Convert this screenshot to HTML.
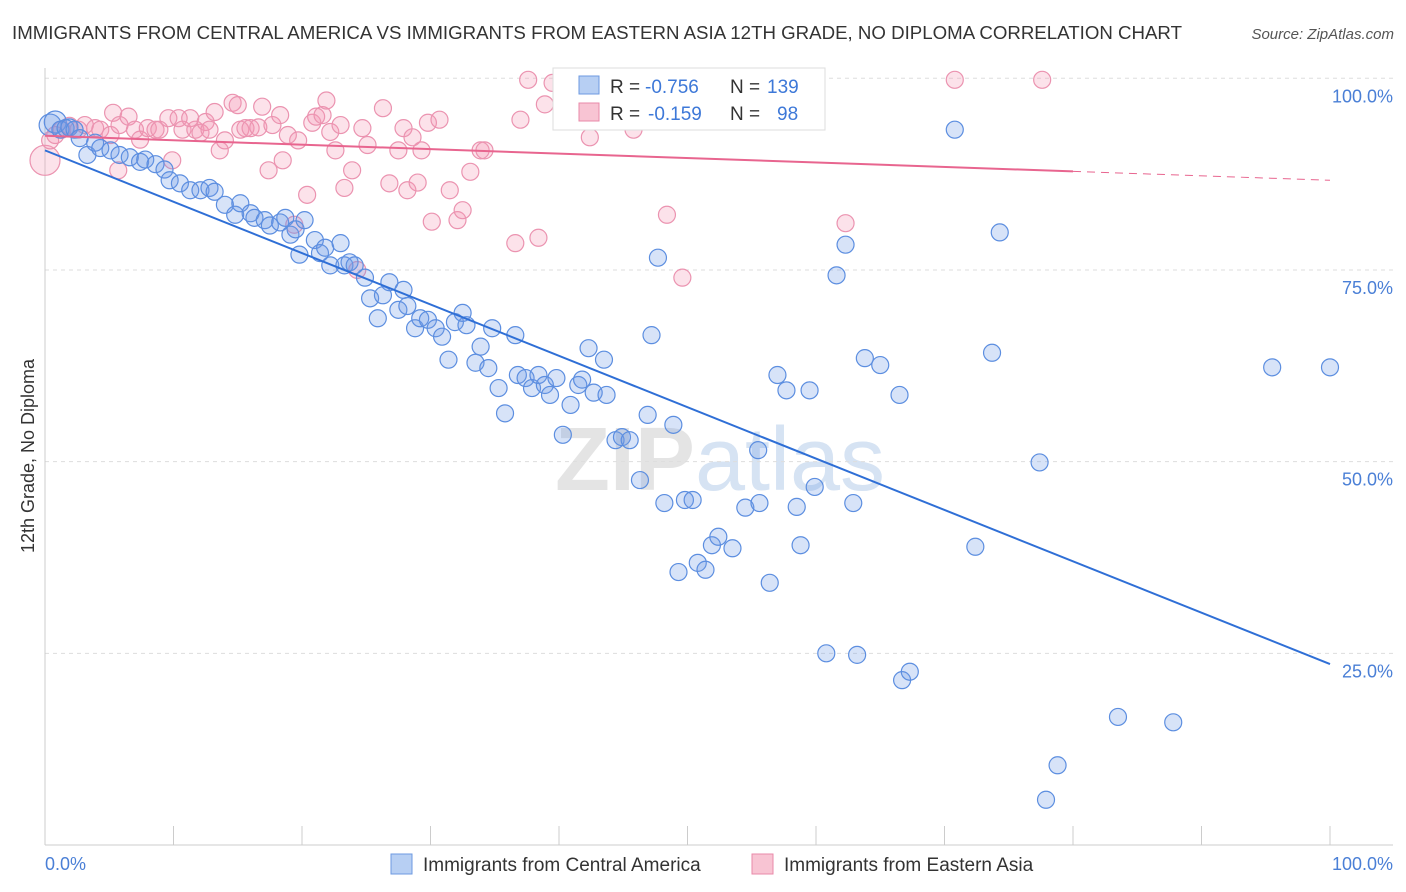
<!DOCTYPE html>
<html><head><meta charset="utf-8"><style>
body{margin:0;background:#fff;font-family:"Liberation Sans",sans-serif;}
#c{position:relative;width:1406px;height:892px;overflow:hidden;}
</style></head><body>
<div id="c">
<svg id="s" width="1406" height="892" xmlns="http://www.w3.org/2000/svg">
<text x="12" y="39" font-size="18.6" fill="#333" textLength="1170" lengthAdjust="spacingAndGlyphs">IMMIGRANTS FROM CENTRAL AMERICA VS IMMIGRANTS FROM EASTERN ASIA 12TH GRADE, NO DIPLOMA CORRELATION CHART</text>
<text x="1394" y="39" font-size="15" fill="#555" font-style="italic" text-anchor="end">Source: ZipAtlas.com</text>
<text x="720" y="490" font-size="90" fill="#e4e4e4" text-anchor="middle" font-weight="bold">ZIP<tspan fill="#d6e3f3" font-weight="normal">atlas</tspan></text>
<g id="grid"></g><g id="ticks"></g><g id="pts"></g><g id="lines"></g>
<text x="34" y="456" font-size="18" fill="#333" text-anchor="middle" transform="rotate(-90 34 456)">12th Grade, No Diploma</text>
<text x="45" y="870" font-size="18" fill="#4a7fd6">0.0%</text>
<text x="1393" y="870" font-size="18" fill="#4a7fd6" text-anchor="end">100.0%</text>
<g>
<rect x="553" y="68" width="272" height="62" fill="#fff" stroke="#ddd"/>
<rect x="579" y="76" width="20" height="18" fill="#b7cff3" stroke="#6d9ae0"/>
<rect x="579" y="103" width="20" height="18" fill="#f8c4d3" stroke="#e98aa8"/>
<text x="610" y="93" font-size="19" fill="#333">R =</text>
<text x="645" y="93" font-size="19" fill="#3d78d8">-0.756</text>
<text x="730" y="93" font-size="19" fill="#333">N =</text>
<text x="767" y="93" font-size="19" fill="#3d78d8">139</text>
<text x="610" y="120" font-size="19" fill="#333">R =</text>
<text x="648" y="120" font-size="19" fill="#3d78d8">-0.159</text>
<text x="730" y="120" font-size="19" fill="#333">N =</text>
<text x="777" y="120" font-size="19" fill="#3d78d8">98</text>
</g>
<g>
<rect x="391" y="854" width="21" height="20" fill="#b7cff3" stroke="#6d9ae0"/>
<text x="423" y="871" font-size="19" fill="#333">Immigrants from Central America</text>
<rect x="752" y="854" width="21" height="20" fill="#f8c4d3" stroke="#e98aa8"/>
<text x="784" y="871" font-size="19" fill="#333">Immigrants from Eastern Asia</text>
</g>
</svg>
</div>
<script>
const yTicks=[100,75,50,25];
const yTickLabels=["100.0%","75.0%","50.0%","25.0%"];
const xTicks=[0,10,20,30,40,50,60,70,80,90,100];
const blueX=[0.4,0.8,1.2,1.6,1.9,2.3,2.7,3.3,3.9,4.3,5.1,5.8,6.6,7.4,7.8,8.6,9.3,9.7,10.5,11.3,12.1,12.8,13.2,14.0,14.8,15.2,16.0,16.3,17.1,17.5,18.3,18.7,19.1,19.5,19.8,20.2,21.0,21.4,21.8,22.2,23.0,23.3,23.7,24.1,24.9,25.3,25.9,26.3,26.8,27.5,27.9,28.2,28.8,29.2,29.8,30.4,30.9,31.4,31.9,32.5,32.8,33.5,33.9,34.5,34.8,35.3,35.8,36.6,36.8,37.4,37.9,38.4,38.9,39.3,39.8,40.3,40.9,41.5,41.8,42.3,42.7,43.5,43.7,44.4,44.9,45.5,46.3,46.9,47.2,47.7,48.2,48.9,49.3,49.8,50.4,50.8,51.4,51.9,52.4,53.5,54.5,55.5,55.6,56.4,57.0,57.7,58.5,58.8,59.5,59.9,60.8,61.6,62.3,62.9,63.2,63.8,65.0,66.5,66.7,67.3,70.8,72.4,73.7,74.3,77.4,77.9,78.8,83.5,87.8,95.5,100,54.2];
const blueY=[93.9,94.3,93.3,93.5,93.6,93.3,92.2,90.0,91.6,90.9,90.6,90.0,89.7,89.1,89.4,88.8,88.1,86.7,86.3,85.4,85.4,85.7,85.2,83.5,82.2,83.7,82.4,81.8,81.5,80.8,81.2,81.8,79.6,80.3,77.0,81.5,78.9,77.2,77.9,75.6,78.5,75.6,76.0,75.6,74.0,71.3,68.7,71.7,73.4,69.8,72.4,70.3,67.4,68.7,68.5,67.4,66.3,63.3,68.2,69.4,67.8,62.9,65.0,62.2,67.4,59.6,56.3,66.5,61.3,60.9,59.6,61.3,60.0,58.7,60.9,53.5,57.4,60.0,60.7,64.8,59.0,63.3,58.7,52.8,53.2,52.8,47.6,56.1,66.5,76.6,44.6,54.8,35.6,45.0,45.0,36.8,35.9,39.1,40.2,38.7,44.0,51.5,44.6,34.2,61.3,59.3,44.1,39.1,59.3,46.7,25.0,74.3,78.3,44.6,24.8,63.5,62.6,58.7,21.5,22.6,93.3,38.9,64.2,79.9,49.9,5.9,10.4,16.7,16.0,62.3,62.3,99.7];
const pinkX=[0,0.4,0.8,1.3,1.9,2.6,3.1,3.9,4.3,5.1,5.7,5.3,5.8,6.5,7.0,7.4,8.0,8.6,8.9,9.6,9.9,10.4,10.7,11.3,11.7,12.1,12.5,12.8,13.2,13.6,14.0,14.6,15.0,15.2,15.6,16.0,16.6,16.9,17.4,17.7,18.3,18.5,18.9,19.4,19.7,20.4,20.8,21.1,21.6,21.9,22.2,22.6,23.0,23.3,23.9,24.3,24.7,25.1,26.3,26.8,27.5,27.9,28.2,28.6,29.0,29.3,29.8,30.1,30.7,31.5,32.1,32.5,33.1,33.9,34.2,36.6,37.0,37.6,38.4,38.9,39.5,42.4,45.8,48.4,49.6,52.9,62.3,70.8,77.6];
const pinkY=[89.3,91.9,92.6,93.3,93.8,93.3,93.9,93.5,93.3,92.6,88.0,95.5,93.9,95.0,93.3,92.0,93.5,93.3,93.3,94.8,89.3,94.8,93.3,94.8,93.3,92.9,94.3,93.3,95.6,90.6,91.9,96.8,96.5,93.3,93.5,93.5,93.6,96.3,88.0,93.9,95.2,89.3,92.6,80.9,91.9,84.8,94.2,95.0,95.2,97.1,93.0,90.6,93.9,85.7,88.0,75.0,93.5,91.3,96.1,86.3,90.6,93.5,85.4,92.3,86.4,90.6,94.2,81.3,94.6,85.4,81.5,82.8,87.8,90.6,90.6,78.5,94.6,99.8,79.2,96.6,99.4,92.3,93.3,82.2,74.0,94.8,81.1,99.8,99.8];
const blueTrend=[90.6,23.6];
const pinkTrend=[92.5,86.7];
const pinkSolidEnd=80;
const NS="http://www.w3.org/2000/svg";
const X=v=>45+v*12.85, Y=v=>845-v*7.667;
function mk(t,a,p){const e=document.createElementNS(NS,t);for(const k in a)e.setAttribute(k,a[k]);p.appendChild(e);return e;}
const grid=document.getElementById('grid'),ticks=document.getElementById('ticks'),pts=document.getElementById('pts'),lines=document.getElementById('lines');
yTicks.forEach((v,i)=>{
 const l=mk('line',{x1:45,x2:1393,y1:Y(v),y2:Y(v),stroke:'#ddd','stroke-dasharray':'4,4'},grid);
 
 
 const t=mk('text',{x:1393,y:Y(v)+24,'font-size':18,fill:'#4a7fd6','text-anchor':'end'},grid);
 t.textContent=yTickLabels[i];
 
 
});
const ax=mk('line',{x1:45,x2:45,y1:68,y2:845,stroke:'#ccc'},ticks);


const bx=mk('line',{x1:45,x2:1393,y1:845,y2:845,stroke:'#ccc'},ticks);


xTicks.forEach(v=>{
 const l=mk('line',{x1:X(v),x2:X(v),y1:826,y2:845,stroke:'#ccc'},ticks);
 
 
});
function dots(xs,ys,fill,stroke,name){xs.forEach((x,i)=>{
 const r=(x===0&&name==='pink-point')?15:(i<2&&name==='blue-point'?11:8.5);
 const c=mk('circle',{cx:X(x),cy:Y(ys[i]),r:r,fill:fill,stroke:stroke,'stroke-width':1.2},pts);
 
 
});}
dots(pinkX,pinkY,'rgba(244,150,180,0.28)','#eb93b0','pink-point');
dots(blueX,blueY,'rgba(110,155,230,0.28)','#5c8ee0','blue-point');
const bl=mk('line',{x1:X(0),y1:Y(blueTrend[0]),x2:X(100),y2:Y(blueTrend[1]),stroke:'#2f6fd6','stroke-width':2},lines);


const pm=pinkTrend[0]+(pinkTrend[1]-pinkTrend[0])*pinkSolidEnd/100;
const pl=mk('line',{x1:X(0),y1:Y(pinkTrend[0]),x2:X(pinkSolidEnd),y2:Y(pm),stroke:'#e8658f','stroke-width':2},lines);


const pd=mk('line',{x1:X(pinkSolidEnd),y1:Y(pm),x2:X(100),y2:Y(pinkTrend[1]),stroke:'#e8658f','stroke-width':1,'stroke-dasharray':'8,6'},lines);


</script>
</body></html>
